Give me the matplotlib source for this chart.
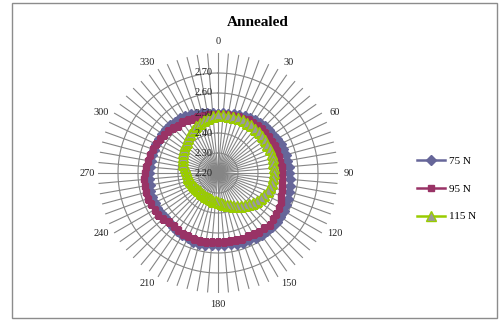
import numpy as np
import matplotlib
matplotlib.use("Agg")
import matplotlib.pyplot as plt
from matplotlib.lines import Line2D
from matplotlib.patches import Rectangle
import matplotlib.transforms as mtransforms

title = "Annealed"
angles_deg = list(range(0, 360, 5))
cat_labels = [str(a) if a % 30 == 0 else "" for a in angles_deg]
r_ticks = [2.20, 2.30, 2.40, 2.50, 2.60, 2.70]
r_min, r_max = 2.20, 2.80

series_names = ["75 N", "95 N", "115 N"]

s75 = [2.495, 2.500, 2.500, 2.505, 2.510, 2.515, 2.520, 2.525, 2.525, 2.530, 2.535, 2.535,
       2.540, 2.545, 2.545, 2.550, 2.550, 2.555, 2.555, 2.560, 2.565, 2.570, 2.575, 2.575,
       2.580, 2.580, 2.585, 2.585, 2.580, 2.580, 2.575, 2.570, 2.570, 2.565, 2.560, 2.560,
       2.560, 2.560, 2.565, 2.565, 2.565, 2.560, 2.560, 2.555, 2.550, 2.545, 2.545, 2.550,
       2.550, 2.550, 2.550, 2.550, 2.545, 2.545, 2.545, 2.540, 2.540, 2.540, 2.540, 2.540,
       2.540, 2.540, 2.540, 2.540, 2.535, 2.535, 2.530, 2.525, 2.515, 2.510, 2.505, 2.500]

s95 = [2.490, 2.490, 2.495, 2.495, 2.500, 2.500, 2.505, 2.505, 2.510, 2.510, 2.510, 2.510,
       2.510, 2.515, 2.515, 2.515, 2.515, 2.520, 2.520, 2.520, 2.525, 2.530, 2.535, 2.545,
       2.550, 2.555, 2.560, 2.565, 2.560, 2.560, 2.555, 2.550, 2.550, 2.545, 2.545, 2.545,
       2.545, 2.545, 2.550, 2.550, 2.550, 2.550, 2.550, 2.550, 2.545, 2.550, 2.560, 2.565,
       2.565, 2.570, 2.575, 2.575, 2.570, 2.570, 2.565, 2.560, 2.555, 2.550, 2.545, 2.540,
       2.535, 2.530, 2.525, 2.515, 2.510, 2.510, 2.505, 2.500, 2.500, 2.495, 2.495, 2.490]

s115 = [2.490, 2.490, 2.490, 2.490, 2.490, 2.490, 2.490, 2.490, 2.490, 2.490, 2.485, 2.485,
        2.485, 2.485, 2.485, 2.485, 2.480, 2.480, 2.480, 2.475, 2.475, 2.470, 2.465, 2.455,
        2.450, 2.440, 2.430, 2.420, 2.410, 2.400, 2.390, 2.380, 2.370, 2.365, 2.355, 2.350,
        2.345, 2.340, 2.340, 2.335, 2.335, 2.330, 2.330, 2.330, 2.330, 2.330, 2.330, 2.335,
        2.335, 2.340, 2.340, 2.345, 2.350, 2.350, 2.355, 2.360, 2.370, 2.380, 2.385, 2.395,
        2.400, 2.410, 2.415, 2.420, 2.430, 2.440, 2.450, 2.460, 2.465, 2.475, 2.480, 2.485]

colors = ["#666699", "#993366", "#99CC00"]
face = ["#666699", "#993366", "#9A9A9A"]
markers = ["D", "s", "^"]
msizes = [5.2, 4.6, 7]

plt.rcParams['font.family'] = ['Liberation Serif', 'DejaVu Serif']

W, H = 501, 320
fig = plt.figure(figsize=(W / 100, H / 100), dpi=100)

cx, cy, R = 218, 173, 120
ax = fig.add_axes([(cx - R) / W, (H - cy - R) / H, 2 * R / W, 2 * R / H], projection='polar')
ax.set_theta_zero_location('N')
ax.set_theta_direction(-1)
ax.set_ylim(r_min, r_max)
ax.set_xticks([])
ax.set_yticks([])
ax.grid(False)
ax.spines['polar'].set_visible(False)
ax.patch.set_alpha(0)

theta = np.deg2rad(angles_deg)
grid_c = "#858585"
for t in theta:
    ax.plot([t, t], [r_min, r_max], color=grid_c, lw=0.8, zorder=1)
tt = np.linspace(0, 2 * np.pi, 361)
for rv in r_ticks[1:]:
    ax.plot(tt, np.full_like(tt, rv), color=grid_c, lw=0.8, zorder=1)

for vals, c, fc, m, ms in zip([s75, s95, s115], colors, face, markers, msizes):
    v = np.array(vals + vals[:1])
    t = np.append(theta, theta[0])
    ax.plot(t, v, color=c, lw=1.8, marker=m, markersize=ms,
            markerfacecolor=fc, markeredgecolor=c, markeredgewidth=1.0, zorder=3)

# category labels (placed just outside the spokes)
for a, lab in zip(angles_deg, cat_labels):
    if lab:
        a_shift = a + 3.0 * np.sin(np.deg2rad(2 * a))
        ax.text(np.deg2rad(a_shift), r_max + 0.056, lab, ha='center', va='center',
                fontsize=7.5, color='#222222', zorder=5)

off = mtransforms.offset_copy(ax.transData, fig=fig, x=-5, y=0, units='dots')
for rv in r_ticks:
    ax.text(0, rv, f"{rv:.2f}", transform=off, ha='right', va='center',
            fontsize=7.5, color='#222222', zorder=6)

fig.text(258 / W, 1 - 22 / H, title, ha='center', va='center',
         fontsize=11, fontweight='bold', color='black')

handles = [Line2D([0], [0], color=c, lw=1.8, marker=m, markersize=ms,
                  markerfacecolor=fc, markeredgecolor=c, markeredgewidth=1.0)
           for c, fc, m, ms in zip(colors, face, markers, msizes)]
fig.legend(handles, series_names, loc='center left',
           bbox_to_anchor=(417 / W, 1 - 189 / H), frameon=False,
           fontsize=8, labelspacing=1.6, handlelength=2.5, handletextpad=0.4,
           borderpad=0, borderaxespad=0)

fig.patches.append(Rectangle((12 / W, 2 / H), (497 - 12) / W, (317 - 2) / H,
                             transform=fig.transFigure, fill=False,
                             edgecolor='#8c8c8c', lw=1))

fig.savefig("out.png", dpi=100)
